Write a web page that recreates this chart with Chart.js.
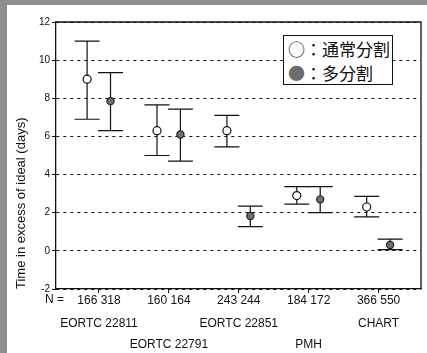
<!DOCTYPE html>
<html>
<head>
<meta charset="utf-8">
<script src="https://cdn.jsdelivr.net/npm/chart.js@4.4.1/dist/chart.umd.min.js"></script>
<style>
  html, body { margin: 0; padding: 0; background: #fff; }
  #wrap { position: relative; width: 427px; height: 353px; overflow: hidden; }
  #edgeL { position: absolute; left: 0; top: 0; width: 7px; height: 353px; background: #8e8e8e; }
  #edgeT { position: absolute; left: 0; top: 0; width: 427px; height: 5px; background: #8e8e8e; }
  #nlab { position: absolute; left: 45px; top: 292px; font: 12px "Liberation Sans", Arial, sans-serif; color: #111; }
  #legend {
    position: absolute; left: 283px; top: 35px; width: 110px; height: 50px;
    border: 1px solid #111; background: #fff;
    font: 17px "Noto Sans CJK JP", sans-serif; color: #111; line-height: 24px;
    padding: 1px 0 0 4px; box-sizing: border-box;
  }
  .gray { color: #6d6d6d; }
</style>
</head>
<body>
<div id="wrap">
  <canvas id="myChart" width="427" height="353"></canvas>
  <div id="edgeL"></div>
  <div id="edgeT"></div>
  <div id="nlab">N =</div>
  <div id="legend">
    <div>○：通常分割</div>
    <div><span class="gray">●</span>：多分割</div>
  </div>
</div>
<script>
// datos
const studies = ['EORTC 22811', 'EORTC 22791', 'EORTC 22851', 'PMH', 'CHART'];
const nLabels = ['166 318', '160 164', '243 244', '184 172', '366 550'];

const conventional     = [9.0, 6.3, 6.3, 2.9, 2.3];
const conventionalLow  = [6.9, 5.0, 5.45, 2.45, 1.78];
const conventionalHigh = [11.0, 7.65, 7.1, 3.37, 2.86];

const multi     = [7.85, 6.1, 1.83, 2.7, 0.31];
const multiLow  = [6.3, 4.7, 1.27, 2.0, 0.06];
const multiHigh = [9.35, 7.43, 2.35, 3.37, 0.62];

const yTicks = [-2, 0, 2, 4, 6, 8, 10, 12];

// arma los puntos de cada serie
function toPoints(vals, lo, hi, off) {
  return vals.map((v, i) => ({ x: i + 1 + off, y: v, lo: lo[i], hi: hi[i] }));
}

const errorBars = {
  id: 'errorBars',
  beforeDatasetsDraw(chart) {
    const ctx = chart.ctx;
    const xs = chart.scales.x, ys = chart.scales.y;
    ctx.save();
    ctx.strokeStyle = '#111';
    ctx.lineWidth = 1.2;
    chart.data.datasets.forEach(ds => {
      ds.data.forEach(p => {
        const x = xs.getPixelForValue(p.x);
        const y1 = ys.getPixelForValue(p.lo);
        const y2 = ys.getPixelForValue(p.hi);
        ctx.beginPath();
        ctx.moveTo(x, y1); ctx.lineTo(x, y2);
        ctx.moveTo(x - 12.5, y1); ctx.lineTo(x + 12.5, y1);
        ctx.moveTo(x - 12.5, y2); ctx.lineTo(x + 12.5, y2);
        ctx.stroke();
      });
    });
    ctx.restore();
  },
  afterDraw(chart) {
    // marco superior y derecho
    const a = chart.chartArea, ctx = chart.ctx;
    ctx.save();
    ctx.strokeStyle = '#111';
    ctx.lineWidth = 1.3;
    ctx.beginPath();
    ctx.moveTo(a.left, a.top); ctx.lineTo(a.right, a.top); ctx.lineTo(a.right, a.bottom);
    ctx.stroke();
    ctx.restore();
  }
};

const fiveTicks = (scale) => { scale.ticks = studies.map((s, i) => ({ value: i + 1 })); };

const atx = document.getElementById('myChart').getContext('2d');
const chart = new Chart(atx, {
  type: 'scatter',
  data: {
    datasets: [
      {
        label: '通常分割',
        data: toPoints(conventional, conventionalLow, conventionalHigh, -0.17),
        pointStyle: 'circle',
        pointRadius: 4,
        pointBackgroundColor: '#fff',
        pointBorderColor: '#111',
        pointBorderWidth: 1.2
      },
      {
        label: '多分割',
        data: toPoints(multi, multiLow, multiHigh, 0.165),
        pointStyle: 'circle',
        pointRadius: 3.6,
        pointBackgroundColor: '#707070',
        pointBorderColor: '#222',
        pointBorderWidth: 1.2
      }
    ]
  },
  options: {
    responsive: false,
    animation: false,
    devicePixelRatio: 1,
    layout: { padding: { top: 22, right: 6, bottom: 0, left: 0 } },
    plugins: { legend: { display: false }, tooltip: { enabled: false } },
    scales: {
      x: {
        type: 'linear',
        position: 'bottom',
        min: 0.385,
        max: 5.607,
        afterBuildTicks: fiveTicks,
        afterFit: (s) => { s.height = 18; },
        grid: { drawOnChartArea: false, drawTicks: true, tickLength: 4, color: '#111' },
        border: { display: true, color: '#111', width: 1.3 },
        ticks: {
          padding: 0,
          color: '#111',
          font: { family: '"Liberation Sans", Arial, sans-serif', size: 12 },
          callback: (v) => nLabels[v - 1]
        }
      },
      x2: {
        type: 'linear',
        position: 'bottom',
        min: 0.385,
        max: 5.607,
        afterBuildTicks: fiveTicks,
        afterFit: (s) => { s.height = 46; },
        grid: { display: false, drawTicks: false },
        border: { display: false },
        ticks: {
          padding: 6.5,
          color: '#111',
          font: { family: '"Liberation Sans", Arial, sans-serif', size: 12, lineHeight: 1.75 },
          callback: (v) => (v % 2 === 1 ? [studies[v - 1], ''] : ['', studies[v - 1]])
        }
      },
      y: {
        min: -2,
        max: 12,
        afterBuildTicks: (s) => { s.ticks = yTicks.map(v => ({ value: v })); },
        afterFit: (s) => { s.width = 56; },
        grid: { color: '#111', lineWidth: 1, tickLength: 4, tickColor: '#111' },
        border: { display: true, color: '#111', width: 1.3, dash: [3, 4] },
        ticks: {
          padding: 2,
          color: '#111',
          font: { family: '"Liberation Sans", Arial, sans-serif', size: 10 }
        },
        title: {
          display: true,
          text: 'Time in excess of ideal (days)',
          align: 'start',
          color: '#111',
          padding: { top: 14, bottom: 0 },
          font: { family: '"Liberation Sans", Arial, sans-serif', size: 13 }
        }
      }
    }
  },
  plugins: [errorBars]
});
</script>
</body>
</html>
